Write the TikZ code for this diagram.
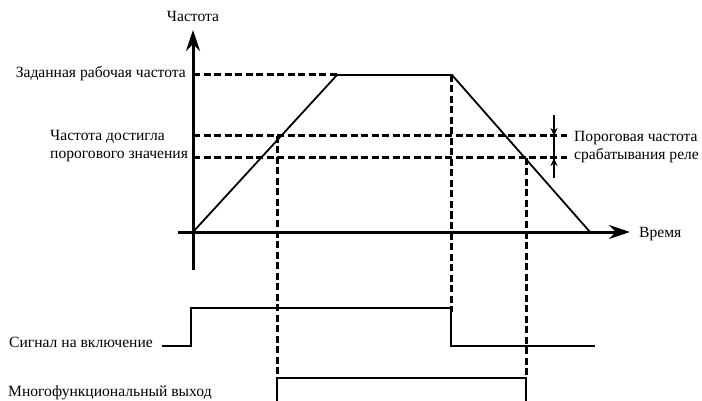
\documentclass[tikz,border=0pt]{standalone}
\usepackage{fontspec}
\setmainfont{Liberation Serif}
\usetikzlibrary{arrows.meta}
\tikzset{
  lbl/.style={inner sep=0pt, font=\fontsize{15.6}{18}\selectfont},
  axisline/.style={line width=3pt, -{Stealth[length=21pt,width=14pt]}},
  dashline/.style={line width=3pt, dash pattern=on 7pt off 3.5pt},
  curve/.style={line width=1.8pt},
  sig/.style={line width=2.2pt},
  thr/.style={line width=2.4pt},
  thrtip/.style={-{Stealth[length=8pt,width=7pt]}, line width=1.4pt}
}
\begin{document}
\begin{tikzpicture}[x=1pt,y=-1pt]
\useasboundingbox (0,0) rectangle (702,401);
% key points
\coordinate (O) at (193,232);
\coordinate (ytop) at (193,30);
\coordinate (ybot) at (193,270);
\coordinate (xl) at (178,232);
\coordinate (xr) at (630,232);
\coordinate (A) at (337,75);
\coordinate (B) at (452,75);
\coordinate (C) at (590,232);
\coordinate (fs) at (193,75);
\coordinate (h1l) at (193,136);
\coordinate (h1r) at (567,136);
\coordinate (h2l) at (193,158);
\coordinate (h2r) at (567,158);
% dashed guides
\draw[dashline] (fs) -- (A);
\draw[dashline] (h1l) -- (h1r);
\draw[dashline] (h2l) -- (h2r);
\coordinate (v1t) at (277,136);
\coordinate (v1b) at (277,378);
\coordinate (v2t) at (451,75);
\coordinate (v2b) at (451,312);
\coordinate (v3t) at (526,158);
\coordinate (v3b) at (526,378);
\draw[dashline] (v1t) -- (v1b);
\draw[dashline] (v2t) -- (v2b);
\draw[dashline] (v3t) -- (v3b);
% axes
\draw[axisline] (ybot) -- (ytop);
\draw[axisline] (xl) -- (xr);
% frequency curve
\draw[curve] (O) -- (A) -- (B) -- (C);
% threshold arrows
\coordinate (ta) at (554,115);
\coordinate (tb) at (554,178);
\coordinate (tm1) at (554,136);
\coordinate (tm2) at (554,158);
\draw[thr] (ta) -- (tb);
\draw[thrtip] (554,127) -- (tm1);
\draw[thrtip] (554,167) -- (tm2);
% run signal
\coordinate (s0) at (162,346);
\coordinate (s1) at (191,346);
\coordinate (s2) at (191,308);
\coordinate (s3) at (451,308);
\coordinate (s4) at (451,346);
\coordinate (s5) at (595,346);
\draw[sig] (s0) -- (s1) -- (s2) -- (s3) -- (s4) -- (s5);
% multifunction output
\coordinate (m0) at (277,401);
\coordinate (m1) at (277,378);
\coordinate (m2) at (526,378);
\coordinate (m3) at (526,401);
\draw[sig] (m0) -- (m1) -- (m2) -- (m3);
% labels
\node[lbl, anchor=base] (tf) at (193,22) {Частота};
\node[lbl, anchor=base east] (tset) at (186,78) {Заданная рабочая частота};
\node[lbl, anchor=base west] (tr1) at (50,141) {Частота достигла};
\node[lbl, anchor=base west] (tr2) at (50,159) {порогового значения};
\node[lbl, anchor=base west] (tp1) at (574,142) {Пороговая частота};
\node[lbl, anchor=base west] (tp2) at (574,160) {срабатывания реле};
\node[lbl, anchor=base west] (tt) at (639,237) {Время};
\node[lbl, anchor=base west] (ts) at (9,347) {Сигнал на включение};
\node[lbl, anchor=base west] (tm) at (8,396) {Многофункциональный выход};
\end{tikzpicture}
\end{document}
